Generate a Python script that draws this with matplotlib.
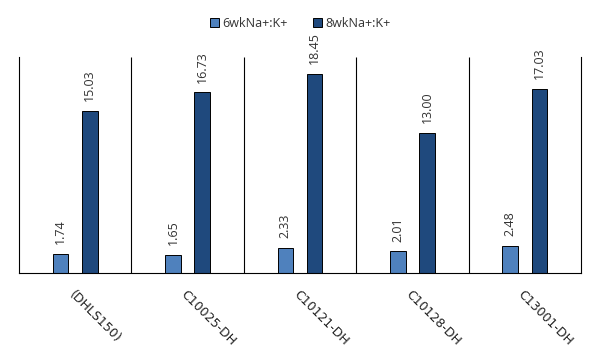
import matplotlib.pyplot as plt
import numpy as np

plt.rcParams['font.family'] = ['Open Sans', 'DejaVu Sans']

lines = ['(DHLS150)', 'C10025-DH', 'C10121-DH', 'C10128-DH', 'C13001-DH']
wk6 = [1.74, 1.65, 2.33, 2.01, 2.48]
wk8 = [15.03, 16.73, 18.45, 13.00, 17.03]
series = ['6wkNa+:K+', '8wkNa+:K+']

fig = plt.figure(figsize=(6.01, 3.61), dpi=100)
ax = fig.add_axes([19/601, 1 - 273/361, 562/601, 216/361])

x = np.arange(len(lines))
w = 0.14
b1 = ax.bar(x - 0.13, wk6, w, color='#4F81BD', edgecolor='black', linewidth=0.7, label=series[0])
b2 = ax.bar(x + 0.13, wk8, w, color='#1F497D', edgecolor='black', linewidth=0.7, label=series[1])

for bars, vals in ((b1, wk6), (b2, wk8)):
    for r, v in zip(bars, vals):
        ax.annotate('%.2f' % v, (r.get_x() + r.get_width() / 2, v),
                    xytext=(0, 7), textcoords='offset points',
                    rotation=90, ha='center', va='bottom', fontsize=9, color='#333333')

ax.set_xlim(-0.5, len(lines) - 0.5)
ax.set_ylim(0, 20)
ax.vlines(np.arange(len(lines) - 1) + 0.5, 0, 20, color='black', linewidth=0.8)

ax.set_yticks([])
ax.set_xticks(x)
ax.set_xticklabels(lines, rotation=-45, ha='left', rotation_mode='anchor',
                   fontsize=9, family='DejaVu Sans', color='#222222')
ax.tick_params(axis='x', length=0, pad=11)
ax.spines['top'].set_visible(False)
for s in ('left', 'right', 'bottom'):
    ax.spines[s].set_linewidth(0.8)

fig.legend(loc='upper center', bbox_to_anchor=(0.5, 0.985), ncol=2, frameon=False,
           fontsize=9, handlelength=0.7, handleheight=0.7, handletextpad=0.3,
           columnspacing=2.0, labelcolor='#333333')

fig.savefig('out.png', dpi=100)
